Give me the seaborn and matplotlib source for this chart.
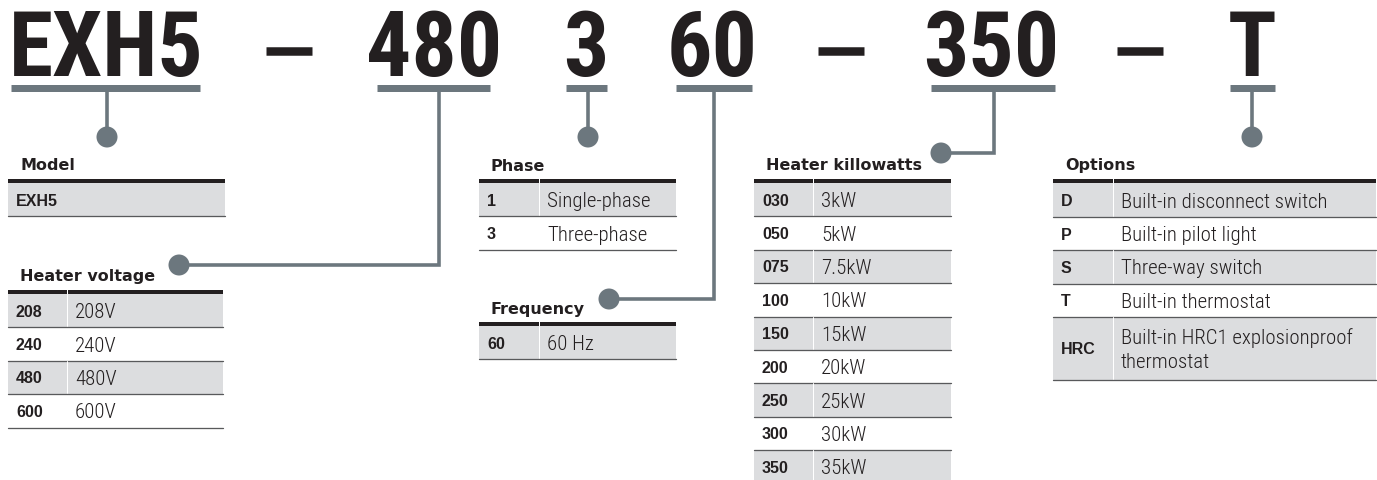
import os
import matplotlib
matplotlib.use("Agg")
import matplotlib.pyplot as plt
from matplotlib import font_manager
from matplotlib.font_manager import FontProperties
from matplotlib.patches import Circle, Rectangle
import seaborn as sns

# -----------------------------
# DATA
# -----------------------------
part_codes = ["EXH5", "480", "3", "60", "350", "T"]

model_codes = ["EXH5"]
model_desc = [""]

voltage_codes = ["208", "240", "480", "600"]
voltage_desc = ["208V", "240V", "480V", "600V"]

phase_codes = ["1", "3"]
phase_desc = ["Single-phase", "Three-phase"]

freq_codes = ["60"]
freq_desc = ["60 Hz"]

kw_codes = ["030", "050", "075", "100", "150", "200", "250", "300", "350"]
kw_desc = ["3kW", "5kW", "7.5kW", "10kW", "15kW", "20kW", "25kW", "30kW", "35kW"]

option_codes = ["D", "P", "S", "T", "HRC"]
option_desc = ["Built-in disconnect switch", "Built-in pilot light",
               "Three-way switch", "Built-in thermostat",
               "Built-in HRC1 explosionproof\nthermostat"]

# -----------------------------
# STYLE / FONTS
# -----------------------------
sns.set_theme(style="white")
INK = "#231f20"
LINK = "#6c777e"
FILL = "#dcdddf"
RULE = "#58595b"

files = {os.path.basename(f.fname).lower(): f.fname
         for f in font_manager.fontManager.ttflist}


def pick(*candidates):
    for c in candidates:
        if c.lower() in files:
            return c.lower()
    return None


def font(path_key, fallback_family, weight="normal"):
    if path_key:
        return FontProperties(fname=files[path_key])
    return FontProperties(family=fallback_family, weight=weight)


big_key = pick("RobotoCondensed-Black.ttf", "RobotoCondensed-ExtraBold.ttf",
               "RobotoCondensed-Bold.ttf", "LiberationSansNarrow-Bold.ttf",
               "DejaVuSansCondensed-Bold.ttf", "Roboto-Bold.ttf")
desc_key = pick("RobotoCondensed-Light.ttf", "RobotoCondensed-Regular.ttf",
                "LiberationSansNarrow-Regular.ttf", "DejaVuSansCondensed.ttf",
                "Roboto-Light.ttf")
code_key = pick("LiberationSans-Bold.ttf", "Arimo-Bold.ttf")
head_key = pick("DejaVuSans-Bold.ttf")

PX = 0.72  # points per pixel at dpi 100

fig = plt.figure(figsize=(13.77, 4.8), dpi=100)
ax = fig.add_axes([0, 0, 1, 1])
ax.set_xlim(0, 1377)
ax.set_ylim(480, 0)
ax.axis("off")
renderer = fig.canvas.get_renderer()

# -----------------------------
# PART NUMBER + CONNECTORS
# -----------------------------
centers = [106, 434, 586, 712, 991, 1252]
bars = [(11, 200), (377, 490), (566, 607), (676, 752), (931, 1055), (1230, 1275)]
dashes = [289, 841, 1140]

# size the big code so that "EXH5" spans about 195 px
fp_big = font(big_key, "DejaVu Sans", "bold")
fp_big.set_size(72)
probe = ax.text(0, 0, part_codes[0], fontproperties=fp_big)
w = probe.get_window_extent(renderer).width
probe.remove()
big_size = min(72 * 195 / w, 92)
fp_big.set_size(big_size)

for code, cx in zip(part_codes, centers):
    ax.text(cx, 76, code, ha="center", va="baseline", fontproperties=fp_big,
            color=INK)
for dx in dashes:
    ax.plot([dx - 23, dx + 23], [50.5, 50.5], color=INK, lw=8.5 * PX,
            solid_capstyle="butt")

for x0, x1 in bars:
    ax.plot([x0, x1], [87.5, 87.5], color=LINK, lw=7 * PX, solid_capstyle="butt")

# stem paths: list of (x, y) points, ending at the dot
stems = [
    [(107, 91), (107, 137)],
    [(439, 91), (439, 265), (179, 265)],
    [(588, 91), (588, 137)],
    [(714, 91), (714, 299), (609, 299)],
    [(994, 91), (994, 153), (941, 153)],
    [(1252, 91), (1252, 137)],
]
for pts in stems:
    xs, ys = zip(*pts)
    ax.plot(xs, ys, color=LINK, lw=3.6 * PX, solid_joinstyle="miter",
            solid_capstyle="butt")
    ax.add_patch(Circle(pts[-1], 10.5, color=LINK, lw=0))

fp_head = font(head_key, "DejaVu Sans", "bold")
fp_head.set_size(11.5)
fp_code = font(code_key, "Liberation Sans", "bold")
fp_code.set_size(11.5)
fp_desc = font(desc_key, "DejaVu Sans")
fp_desc.set_size(15)


# -----------------------------
# TABLES
# -----------------------------
def draw_table(title, codes, descs, left, right, split, top, title_y,
               heights=None):
    ax.text(left + 12, title_y, title, ha="left", va="baseline",
            fontproperties=fp_head, color=INK)
    if split:
        ax.plot([left, split - 0.5], [top - 2, top - 2], color=INK, lw=4 * PX,
                solid_capstyle="butt")
        ax.plot([split + 0.5, right], [top - 2, top - 2], color=INK, lw=4 * PX,
                solid_capstyle="butt")
    else:
        ax.plot([left, right], [top - 2, top - 2], color=INK, lw=4 * PX,
                solid_capstyle="butt")
    y = top
    for i, (c, d) in enumerate(zip(codes, descs)):
        h = heights[i] if heights else 33.4
        if i % 2 == 0:
            ax.add_patch(Rectangle((left, y), right - left, h, facecolor=FILL,
                                   edgecolor="none"))
            if split:
                ax.plot([split, split], [y, y + h], color="white", lw=1 * PX)
        ax.plot([left, right], [y + h, y + h], color=RULE, lw=1.3 * PX)
        mid = y + h / 2
        ax.text(left + 8, mid + 6, c, ha="left", va="baseline",
                fontproperties=fp_code, color=INK)
        lines = d.split("\n") if d else []
        n = len(lines) - 1
        for k, line in enumerate(lines):
            ax.text(split + 8, mid + 7.5 + (k - n / 2) * 24, line, ha="left",
                    va="baseline", fontproperties=fp_desc, color=INK)
        y += h


draw_table("Model", model_codes, model_desc, 8, 225, None, 183, 170)
draw_table("Heater voltage", voltage_codes, voltage_desc, 8, 223, 67, 294, 281)
draw_table("Phase", phase_codes, phase_desc, 479, 676, 539, 183, 171)
draw_table("Frequency", freq_codes, freq_desc, 479, 676, 539, 326, 314)
draw_table("Heater killowatts", kw_codes, kw_desc, 754, 951, 813, 183, 170)
draw_table("Options", option_codes, option_desc, 1053, 1376, 1113, 183, 170,
           heights=[34, 33, 34, 33, 63])

plt.savefig("out.png", dpi=100)
